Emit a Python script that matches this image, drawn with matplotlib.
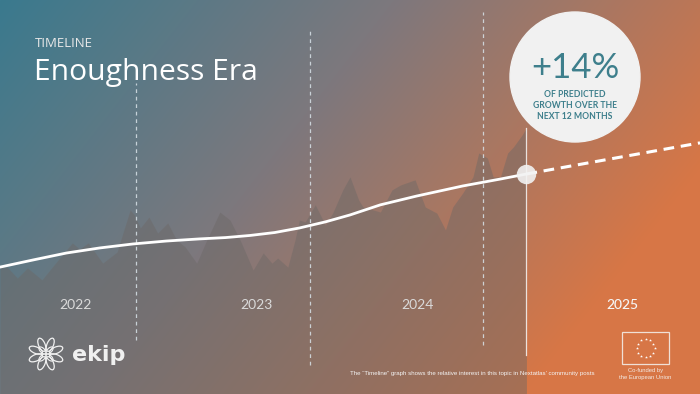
import numpy as np
import matplotlib
matplotlib.use('Agg')
import matplotlib.pyplot as plt
from matplotlib.patches import Circle, Ellipse, Rectangle
from matplotlib.transforms import blended_transform_factory

# months counted from Jan 2022 (12 = Jan 2023, 24 = Jan 2024, 36 = Jan 2025)
area_months = [2.6, 3.1, 3.8, 4.5, 5.5, 6.5, 7.6, 8.1, 8.7, 9.7, 10.7, 11.1, 11.6, 11.9,
               12.3, 12.9, 13.5, 14.2, 14.8, 15.4, 16.2, 16.9, 17.8, 18.5, 19.2, 20.1,
               20.8, 21.4, 21.8, 22.5, 23.0, 23.3, 23.7, 24.4, 25.1, 25.6, 26.3, 26.8,
               27.4, 27.7, 28.9, 29.7, 30.3, 31.3, 32.0, 32.8, 33.4, 33.9, 34.6, 35.3,
               35.7, 36.3, 36.7, 37.2, 37.7, 38.1, 38.7, 38.9, 39.0]
area_interest = [47.7, 47.7, 43.6, 47.4, 42.9, 49.6, 56.8, 54.5, 56.8, 49.2, 53.4, 60.5, 69.2, 67.3,
                 62.4, 66.5, 60.5, 64.3, 57.9, 55.3, 49.2, 57.9, 68.4, 65.4, 57.9, 46.6,
                 53.0, 49.2, 51.1, 47.7, 57.9, 65.4, 64.7, 71.1, 63.5, 68.0, 76.7, 81.6,
                 72.9, 70.3, 68.4, 76.7, 78.6, 80.5, 70.3, 68.0, 61.7, 70.3, 75.6, 81.6,
                 90.6, 88.7, 81.6, 81.6, 90.6, 92.9, 97.4, 99.2, 100.0]

trend_months = [2.6, 4.9, 7.2, 9.5, 11.8, 14.1, 16.4, 18.2, 19.9, 21.6, 23.3, 25.1, 26.8,
                28.9, 31.4, 34.6, 37.2, 39.0]
trend_interest = [47.7, 50.4, 53.0, 54.9, 56.4, 57.5, 58.3, 58.8, 59.6, 60.7, 62.4, 64.7, 67.3,
                  71.1, 74.4, 78.2, 80.8, 82.7]

forecast_months = [39.0, 51.0]
forecast_interest = [82.7, 94.4]

year_starts = [12, 24, 36]
now_month = 39.0
year_labels = ['2022', '2023', '2024', '2025']
year_label_months = [7.85, 20.3, 31.5, 45.6]

W, H = 700, 394
fig = plt.figure(figsize=(W / 100, H / 100), dpi=100)

# gradient background
ax_bg = fig.add_axes([0, 0, 1, 1])
xx, yy = np.meshgrid(np.linspace(0, 1, W), np.linspace(0, 1, H))
t = np.clip(0.8 * xx + 0.35 * yy, 0, 1)
stops = [0.0, 0.45, 0.95]
cols = np.array([[58, 122, 142], [125, 120, 125], [215, 118, 70]]) / 255
img = np.dstack([np.interp(t, stops, cols[:, i]) for i in range(3)])
ax_bg.imshow(img, aspect='auto', extent=[0, W, H, 0])
ax_bg.axis('off')

# chart
ax = fig.add_axes([0, 0, 1, 1])
ax.patch.set_alpha(0)
ax.set_xlim(2.6, 51.0)
ax.set_ylim(0, 148.1)
ax.axis('off')

ax.fill_between(area_months, area_interest, 0, color='#6c6866', alpha=0.45, lw=0, zorder=1)

vl_spans = [(0.137, 0.789), (0.074, 0.924), (0.124, 0.970)]
for m, (lo, hi) in zip(year_starts, vl_spans):
    ax.axvline(m, lo, hi, color='#d8e2e8', lw=0.9, ls=(0, (3, 3)), alpha=0.85, zorder=2)
ax.axvline(now_month, 0.099, 0.675, color='white', lw=0.9, alpha=0.8, zorder=2)

ax.plot(trend_months, trend_interest, color='white', lw=2, solid_capstyle='round',
        solid_joinstyle='round', zorder=3)
ax.plot(forecast_months, forecast_interest, color='white', lw=2.2, ls=(0, (3.5, 2.2)), zorder=3)
ax.plot(trend_months[-1], trend_interest[-1], 'o', ms=14, color='#f2f2f2', alpha=0.9,
        mec='none', zorder=4)

trans = blended_transform_factory(ax.transData, ax.transAxes)
for m, lab in zip(year_label_months, year_labels):
    ax.text(m, 0.215, lab, transform=trans, ha='center', va='baseline', fontsize=10,
            family='Lato', color='#f6f6f6' if lab == '2025' else '#dadada',
            fontweight='medium' if lab == '2025' else 'normal')

# decorations in pixel coordinates
deco = fig.add_axes([0, 0, 1, 1])
deco.patch.set_alpha(0)
deco.set_xlim(0, W)
deco.set_ylim(H, 0)
deco.axis('off')

deco.text(35, 47, 'TIMELINE', fontsize=9.5, family='Open Sans', color='#e8e8e8', va='baseline')
deco.text(34, 80, 'Enoughness Era', fontsize=21.6, family='Open Sans', color='white', va='baseline')

deco.add_patch(Circle((575, 77), 65, color='#f1f1f1', zorder=5))
teal = '#3e7f8c'
deco.text(575, 78, '+14%', fontsize=25, family='Lato', color=teal,
          ha='center', va='baseline', zorder=6)
for yb, line in zip([97, 108, 119], ['OF PREDICTED', 'GROWTH OVER THE', 'NEXT 12 MONTHS']):
    deco.text(575, yb, line, fontsize=6.2, family='Lato', fontweight='bold', color=teal,
              ha='center', va='baseline', zorder=6)

# ekip logo
cx, cy = 46, 354
for k in range(8):
    a = np.deg2rad(k * 45 + 22.5)
    deco.add_patch(Ellipse((cx + 11 * np.cos(a), cy + 10 * np.sin(a)), 6.5, 14,
                           angle=np.rad2deg(a) + 90, fill=False, ec='#f0f0f0', lw=0.9))
for k in range(4):
    a = np.deg2rad(k * 90 + 45)
    deco.add_patch(Ellipse((cx + 5 * np.cos(a), cy + 5 * np.sin(a)), 4.5, 9,
                           angle=np.rad2deg(a) + 90, fill=False, ec='#f0f0f0', lw=0.8))
deco.text(72, 361, 'ekip', fontsize=16, family='DejaVu Sans', fontweight='bold',
          color='#f0f0f0', va='baseline')

# footnote
deco.text(350, 375, 'The \u201cTimeline\u201d graph shows the relative interest in this topic in Nextatlas\u2019 community posts',
          fontsize=4.45, family='Liberation Sans', color='#f4f4f4', va='baseline')

# EU emblem
deco.add_patch(Rectangle((622, 332), 47, 32, fill=False, ec='#f0e0d6', lw=0.9))
ang = np.linspace(0, 2 * np.pi, 12, endpoint=False)
deco.plot(645.5 + 9 * np.cos(ang), 348 + 9 * np.sin(ang), '*', ms=2.2, color='white', mec='none')
deco.text(645.5, 372, 'Co-funded by', fontsize=4.2, family='Liberation Sans', color='#f4ece6',
          ha='center', va='baseline')
deco.text(645.5, 379, 'the European Union', fontsize=4.2, family='Liberation Sans',
          color='#f4ece6', ha='center', va='baseline')

fig.savefig('out.png', dpi=100)
